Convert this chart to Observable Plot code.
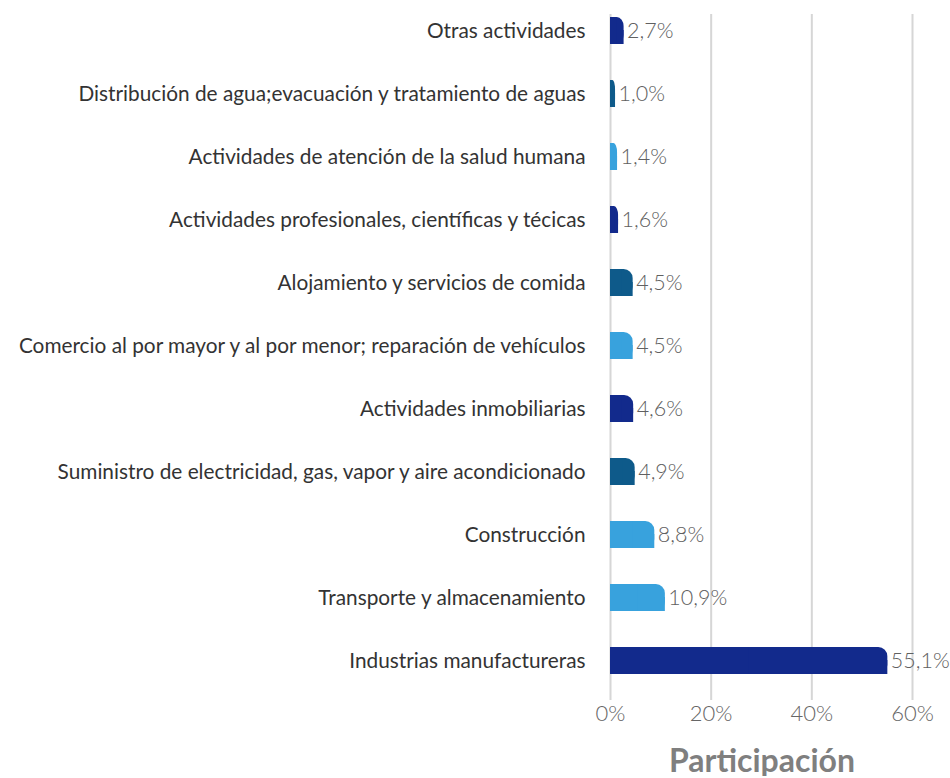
<!DOCTYPE html>
<html>
<head>
<meta charset="utf-8">
<script src="https://cdn.jsdelivr.net/npm/d3@7"></script>
<script src="https://cdn.jsdelivr.net/npm/@observablehq/plot@0.6"></script>
<style>
  html, body { margin: 0; padding: 0; background: #fff; }
  #chart { width: 950px; font-family: Lato, "Open Sans", sans-serif; }
  #xlabel { width: 300px; margin-left: 612px; margin-top: 9px; text-align: center;
    font-family: Lato, sans-serif; font-weight: 700; font-size: 32px; line-height: 1; color: #7f7f7f; }
</style>
</head>
<body>
<div id="chart"></div>
<div id="xlabel">Participación</div>
<script>
const categories = [
  "Otras actividades",
  "Distribución de agua;evacuación y tratamiento de aguas",
  "Actividades de atención de la salud humana",
  "Actividades profesionales, científicas y técicas",
  "Alojamiento y servicios de comida",
  "Comercio al por mayor y al por menor; reparación de vehículos",
  "Actividades inmobiliarias",
  "Suministro de electricidad, gas, vapor y aire acondicionado",
  "Construcción",
  "Transporte y almacenamiento",
  "Industrias manufactureras"
];
const values = [2.7, 1.0, 1.4, 1.6, 4.5, 4.5, 4.6, 4.9, 8.8, 10.9, 55.1];
const palette = ["#122a8c", "#0e5a8a", "#38a2dd", "#122a8c", "#0e5a8a", "#38a2dd",
                 "#122a8c", "#0e5a8a", "#38a2dd", "#38a2dd", "#122a8c"];
const xTicks = [0, 20, 40, 60];

const data = categories.map((c, i) => ({category: c, value: values[i]}));
const fmt = v => v.toFixed(1).replace(".", ",") + "%";

const plot = Plot.plot({
  width: 950,
  height: 735,
  marginLeft: 610,
  marginRight: 38,
  marginTop: 14,
  marginBottom: 35,
  style: {fontFamily: "Lato, sans-serif", background: "#fff"},
  x: {domain: [0, 60]},
  y: {domain: categories, range: [15, 676], paddingInner: 0.574, paddingOuter: 0},
  color: {type: "ordinal", domain: categories, range: palette},
  marks: [
    Plot.gridX(xTicks, {stroke: "#d6d6d6", strokeWidth: 2, strokeOpacity: 1}),
    Plot.axisX(xTicks, {tickSize: 0, tickPadding: 5, fontSize: 22, fontWeight: 300, fill: "#666666",
      tickFormat: d => d + "%", label: null}),
    Plot.axisY({tickSize: 0, tickPadding: 25, fontSize: 20.8, fill: "#333333", label: null}),
    Plot.barX(data, {x: "value", y: "category", fill: "category", rx: 9}),
    Plot.barX(data, {x: "value", y: "category", fill: "category", insetTop: 13}),
    Plot.barX(data, {x1: 0, x2: d => d.value / 2, y: "category", fill: "category"}),
    Plot.text(data, {x: "value", y: "category", text: d => fmt(d.value), textAnchor: "start", dx: 3,
      fontSize: 21.5, fontWeight: 300, fill: "#606060"})
  ]
});
document.getElementById("chart").appendChild(plot);
</script>
</body>
</html>
